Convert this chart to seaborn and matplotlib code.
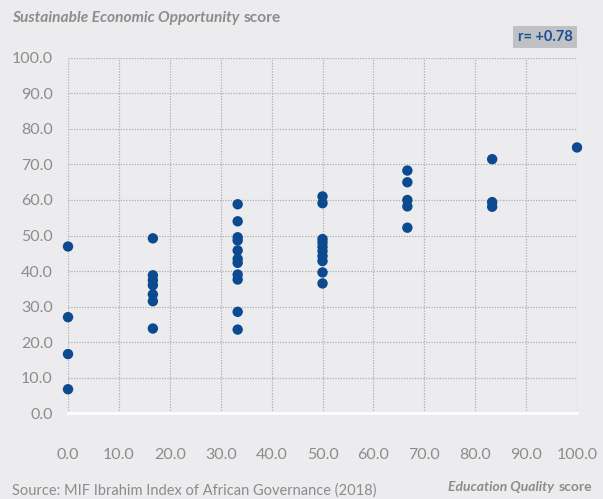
import matplotlib as mpl
import matplotlib.pyplot as plt
import numpy as np
import pandas as pd
import seaborn as sns

# Education Quality score (x) per group and SEO scores (y)
edu_levels = [0.0, 16.67, 33.33, 50.0, 66.67, 83.33, 100.0]
seo_at_0 = [46.9, 27.0, 16.6, 6.7]
seo_at_17 = [49.2, 38.8, 37.4, 36.0, 33.4, 31.5, 23.8]
seo_at_33 = [58.8, 54.0, 49.5, 48.6, 45.8, 43.4, 42.3, 39.0, 37.6, 28.5, 23.5]
seo_at_50 = [61.0, 59.1, 49.0, 48.0, 46.8, 45.6, 44.2, 42.8, 39.6, 36.5]
seo_at_67 = [68.3, 65.0, 60.0, 58.2, 52.2]
seo_at_83 = [71.5, 59.4, 58.1]
seo_at_100 = [74.8]

tick_vals = [0, 10, 20, 30, 40, 50, 60, 70, 80, 90, 100]
tick_labels = ["%.1f" % v for v in tick_vals]
r_label = "r= +0.78"

BG = "#ececee"
BLUE = "#0b4a8f"
GREY = "#8c8c8c"

groups = [seo_at_0, seo_at_17, seo_at_33, seo_at_50, seo_at_67, seo_at_83, seo_at_100]
rows = []
for x, ys in zip(edu_levels, groups):
    for y in ys:
        rows.append([x, y])
df = pd.DataFrame(rows, columns=["education", "seo"])

sns.set_theme(style="white")
mpl.rcParams["font.family"] = ["Lato", "DejaVu Sans"]

fig = plt.figure(figsize=(6.03, 4.99), dpi=100, facecolor=BG)
ax = fig.add_axes([0.1128, 0.1723, 0.8441, 0.7115])
ax.set_facecolor(BG)

sns.scatterplot(
    data=df,
    x="education",
    y="seo",
    s=56,
    color=BLUE,
    edgecolor="none",
    linewidth=0,
    clip_on=False,
    zorder=3,
    ax=ax,
)

ax.set_xlim(0, 100)
ax.set_ylim(0, 100)
ax.set_xticks(tick_vals)
ax.set_xticklabels(tick_labels)
ax.set_yticks(tick_vals)
ax.set_yticklabels(tick_labels)
ax.tick_params(axis="x", length=0, pad=25, labelsize=11.5, labelcolor=GREY)
ax.tick_params(axis="y", length=0, pad=11, labelsize=11.5, labelcolor=GREY)
ax.set_xlabel("")
ax.set_ylabel("")
ax.grid(True, linestyle=(0, (1, 1.2)), color="#b0b0b0", linewidth=0.9)
for side in ["top", "right", "left"]:
    ax.spines[side].set_visible(False)
ax.spines["bottom"].set_color("white")
ax.spines["bottom"].set_linewidth(2)
ax.spines["bottom"].set_zorder(2)

# titles with mixed italic / normal parts
fig.canvas.draw()
renderer = fig.canvas.get_renderer()
inv = fig.transFigure.inverted()

t1 = fig.text(12 / 603, 1 - 18 / 499, "Sustainable Economic Opportunity", style="italic",
              fontsize=11.2, color=GREY, va="center", ha="left", fontweight="bold")
bb = inv.transform(t1.get_window_extent(renderer))
fig.text(bb[1][0] + 4 / 603, 1 - 18 / 499, "score", fontsize=11.2, color=GREY,
         va="center", ha="left", fontweight="bold")

t2 = fig.text(592 / 603, 1 - 487 / 499, "score", fontsize=10, color=GREY,
              va="center", ha="right", fontweight="bold")
bb2 = inv.transform(t2.get_window_extent(renderer))
fig.text(bb2[0][0] - 4 / 603, 1 - 487 / 499, "Education Quality", style="italic",
         fontsize=10, color=GREY, va="center", ha="right", fontweight="bold")

fig.text(12 / 603, 1 - 491 / 499, "Source: MIF Ibrahim Index of African Governance (2018)",
         fontsize=10.5, color=GREY, va="center", ha="left")

fig.text(545 / 603, 1 - 37 / 499, r_label, fontsize=10.5, color="#1b4f93",
         fontweight="bold", va="center", ha="center",
         bbox=dict(boxstyle="square,pad=0.3", facecolor="#bfc1c5", edgecolor="none"))

fig.savefig("out.png", dpi=100, facecolor=BG)
